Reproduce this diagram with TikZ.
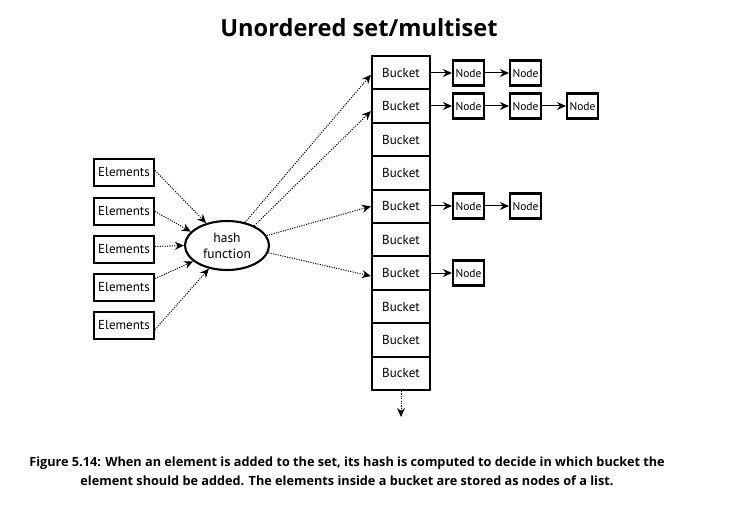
\documentclass[tikz,border=0pt]{standalone}
\usepackage{fontspec}
\setmainfont{PT Sans}
\newfontfamily\capfont{Open Sans}
\usetikzlibrary{arrows.meta,shapes.geometric}
\begin{document}
\begin{tikzpicture}[x=1pt,y=-1pt,
  elembox/.style={draw,line width=2.1pt,minimum width=60pt,minimum height=27pt,inner sep=0pt,font=\fontsize{13}{15}\selectfont},
  bucketbox/.style={draw,line width=2.1pt,minimum width=58pt,minimum height=33.4pt,inner sep=0pt,font=\fontsize{13}{15}\selectfont},
  listbox/.style={draw,line width=2.1pt,minimum width=31pt,minimum height=25pt,inner sep=0pt,font=\fontsize{11.5}{13}\selectfont},
  hashell/.style={draw,ellipse,line width=2.1pt,minimum width=84pt,minimum height=49pt,inner sep=0pt,align=center,font=\fontsize{13.5}{16}\selectfont},
  dotarrow/.style={line width=1pt,dash pattern=on 1.1pt off 1.3pt,-{Stealth[length=9pt,width=8pt]}},
  solidarrow/.style={line width=1pt,-{Stealth[length=9pt,width=8pt]}},
]
\useasboundingbox (0,0) rectangle (736,505);
\node[font=\capfont\bfseries\fontsize{23.6}{28}\selectfont,anchor=base] (title) at (359,37) {Unordered set/multiset};

% buckets
\foreach \i in {1,...,10}{
  \node[bucketbox] (b\i) at (401,{56+33.4*(\i-0.5)}) {Bucket};
}
\coordinate (bend) at (401,417);
\draw[dotarrow] (b10.south) -- (bend);

% list nodes
\node[listbox] (n11) at (468.5,73) {Node};
\node[listbox] (n12) at (525.5,73) {Node};
\node[listbox] (n21) at (468.5,106) {Node};
\node[listbox] (n22) at (525.5,106) {Node};
\node[listbox] (n23) at (582.5,106) {Node};
\node[listbox] (n51) at (468.5,206) {Node};
\node[listbox] (n52) at (525.5,206) {Node};
\node[listbox] (n71) at (468.5,273) {Node};

\draw[solidarrow] (b1.east |- n11) -- (n11);
\draw[solidarrow] (n11) -- (n12);
\draw[solidarrow] (b2.east |- n21) -- (n21);
\draw[solidarrow] (n21) -- (n22);
\draw[solidarrow] (n22) -- (n23);
\draw[solidarrow] (b5.east |- n51) -- (n51);
\draw[solidarrow] (n51) -- (n52);
\draw[solidarrow] (b7.east |- n71) -- (n71);

% elements
\node[elembox] (e1) at (124,172.5) {Elements};
\node[elembox] (e2) at (124,211.5) {Elements};
\node[elembox] (e3) at (124,249.5) {Elements};
\node[elembox] (e4) at (124,287.5) {Elements};
\node[elembox] (e5) at (124,325.5) {Elements};

\node[hashell] (hf) at (227,245.5) {hash\\function};

\draw[dotarrow] ([yshift=2pt]e1.east) -- (hf.133);
\draw[dotarrow] (e2.east) -- (hf.159);
\draw[dotarrow] ([yshift=3pt]e3.east) -- (hf.180);
\draw[dotarrow] ([yshift=9pt]e4.east) -- (hf.205);
\draw[dotarrow] ([yshift=-4pt]e5.east) -- (hf.232);

\draw[dotarrow] (hf.52) -- ([yshift=-2pt]b1.west);
\draw[dotarrow] (hf.36) -- ([yshift=-5pt]b2.west);
\draw[dotarrow] (hf.14) -- (b5.west);
\draw[dotarrow] (hf.-10) -- ([yshift=-3pt]b7.west);

\node[font=\capfont\bfseries\fontsize{12.7}{19.7}\selectfont,align=center,anchor=base] (cap) at (347,485.7)
 {Figure 5.14: When an element is added to the set, its hash is computed to decide in which bucket the\\
  element should be added. The elements inside a bucket are stored as nodes of a list.};
\end{tikzpicture}
\end{document}
